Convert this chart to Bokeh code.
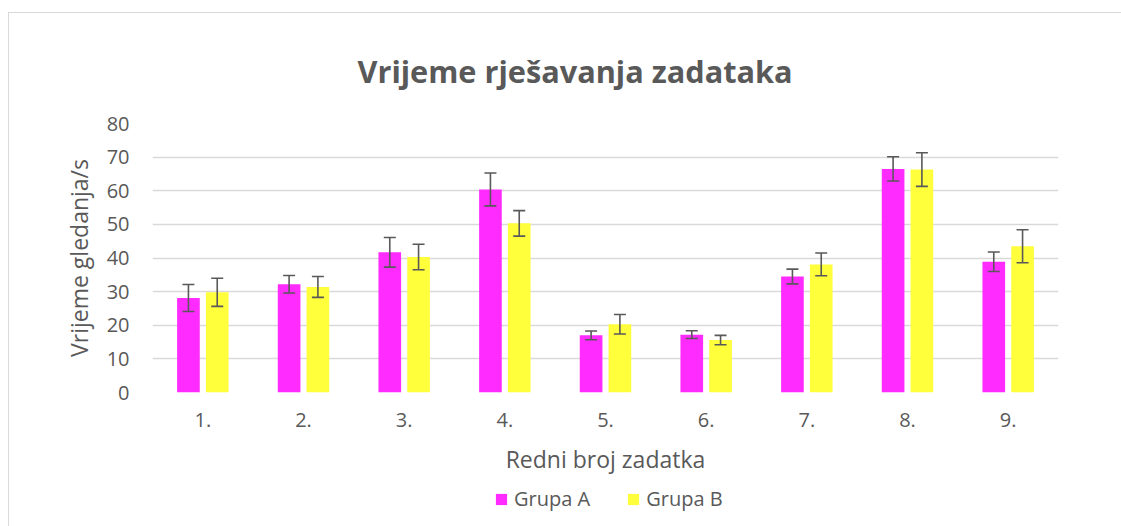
from bokeh.plotting import figure
from bokeh.layouts import column
from bokeh.models import (ColumnDataSource, FactorRange, Range1d, FixedTicker, Whisker,
                          TeeHead, Legend, LegendItem)
from bokeh.transform import dodge
from bokeh.embed import file_html
from bokeh.resources import INLINE

categories = ["1.", "2.", "3.", "4.", "5.", "6.", "7.", "8.", "9."]
series_names = ["Grupa A", "Grupa B"]
grupa_a = [28.1, 32.2, 41.7, 60.4, 17.0, 17.2, 34.5, 66.5, 38.9]
grupa_a_err = [4.0, 2.6, 4.4, 4.9, 1.3, 1.15, 2.2, 3.6, 2.9]
grupa_b = [29.8, 31.4, 40.3, 50.3, 20.3, 15.6, 38.1, 66.3, 43.5]
grupa_b_err = [4.2, 3.1, 3.8, 3.8, 2.9, 1.4, 3.4, 5.0, 4.9]
y_ticks = [0, 10, 20, 30, 40, 50, 60, 70, 80]

TXT = "#595959"
FONT = "Open Sans"
MAGENTA = "#FF2BFF"
YELLOW = "#FFFF3C"
BORDER = "1px solid #d9d9d9"

src = ColumnDataSource(dict(
    cat=categories,
    a=grupa_a,
    a_lo=[v - e for v, e in zip(grupa_a, grupa_a_err)],
    a_hi=[v + e for v, e in zip(grupa_a, grupa_a_err)],
    b=grupa_b,
    b_lo=[v - e for v, e in zip(grupa_b, grupa_b_err)],
    b_hi=[v + e for v, e in zip(grupa_b, grupa_b_err)],
))

p = figure(x_range=FactorRange(factors=categories), y_range=Range1d(0, 80),
           width=1113, height=472, output_backend="svg", toolbar_location=None,
           min_border_left=143, min_border_right=64, min_border_top=110, min_border_bottom=93)
p.margin = (12, 0, 0, 8)
p.styles = {"border-top": BORDER, "border-left": BORDER}
p.outline_line_color = None
p.background_fill_color = "white"
p.border_fill_color = "white"

p.title.text = "Vrijeme rješavanja zadataka"
p.title.align = "left"
p.title.offset = 205
p.title.standoff = 64
p.title.text_font = FONT
p.title.text_font_size = "30.7px"
p.title.text_font_style = "bold"
p.title.text_color = TXT

ra = p.vbar(x=dodge("cat", -0.143, range=p.x_range), top="a", width=0.225, source=src,
            fill_color=MAGENTA, line_color=None)
rb = p.vbar(x=dodge("cat", 0.143, range=p.x_range), top="b", width=0.225, source=src,
            fill_color=YELLOW, line_color=None)

for xoff, lo, hi in [(-0.143, "a_lo", "a_hi"), (0.143, "b_lo", "b_hi")]:
    w = Whisker(base=dodge("cat", xoff, range=p.x_range), lower=lo, upper=hi, source=src,
                level="overlay", line_color="#595959", line_width=1.6,
                upper_head=TeeHead(size=12, line_color="#595959", line_width=1.6),
                lower_head=TeeHead(size=12, line_color="#595959", line_width=1.6))
    p.add_layout(w)

p.xgrid.grid_line_color = None
p.ygrid.grid_line_color = "#d9d9d9"
p.ygrid.grid_line_width = 1.5
p.yaxis.ticker = FixedTicker(ticks=y_ticks)

for ax in (p.xaxis[0], p.yaxis[0]):
    ax.axis_line_color = None
    ax.major_tick_line_color = None
    ax.minor_tick_line_color = None
    ax.major_tick_out = 0
    ax.major_tick_in = 0
    ax.major_label_text_color = TXT
    ax.major_label_text_font = FONT
    ax.major_label_text_font_size = "20px"
    ax.axis_label_text_color = TXT
    ax.axis_label_text_font = FONT
    ax.axis_label_text_font_size = "23px"
    ax.axis_label_text_font_style = "normal"

p.xaxis.axis_label = "Redni broj zadatka"
p.xaxis.major_label_standoff = 20
p.xaxis.axis_label_standoff = 13
p.yaxis.axis_label = "Vrijeme gledanja/s"
p.yaxis.major_label_standoff = 23
p.yaxis.axis_label_standoff = 9

# legend strip below the chart
p2 = figure(x_range=Range1d(0, 1), y_range=Range1d(0, 1), width=1113, height=42,
            output_backend="svg", toolbar_location=None,
            min_border=0, min_border_left=0, min_border_right=0,
            min_border_top=0, min_border_bottom=0)
p2.margin = (0, 0, 0, 8)
p2.styles = {"border-left": BORDER}
p2.axis.visible = False
p2.grid.visible = False
p2.outline_line_color = None
p2.background_fill_color = "white"
p2.border_fill_color = "white"
# invisible placeholder glyphs (zero height) that only supply the legend swatches
la = p2.vbar(x=[0], top=[0], bottom=[0], width=0.0, fill_color=MAGENTA, line_color=None)
lb = p2.vbar(x=[0], top=[0], bottom=[0], width=0.0, fill_color=YELLOW, line_color=None)

legend = Legend(items=[LegendItem(label=series_names[0], renderers=[la]),
                       LegendItem(label=series_names[1], renderers=[lb])],
                orientation="horizontal", location=(342, 14),
                glyph_width=14, glyph_height=14, label_standoff=6, spacing=36,
                padding=0, margin=0, border_line_color=None, background_fill_alpha=0,
                label_text_font=FONT, label_text_font_size="20px", label_text_color=TXT)
p2.add_layout(legend)

layout = column(p, p2, spacing=0)
open("out.html", "w").write(file_html(layout, INLINE))
